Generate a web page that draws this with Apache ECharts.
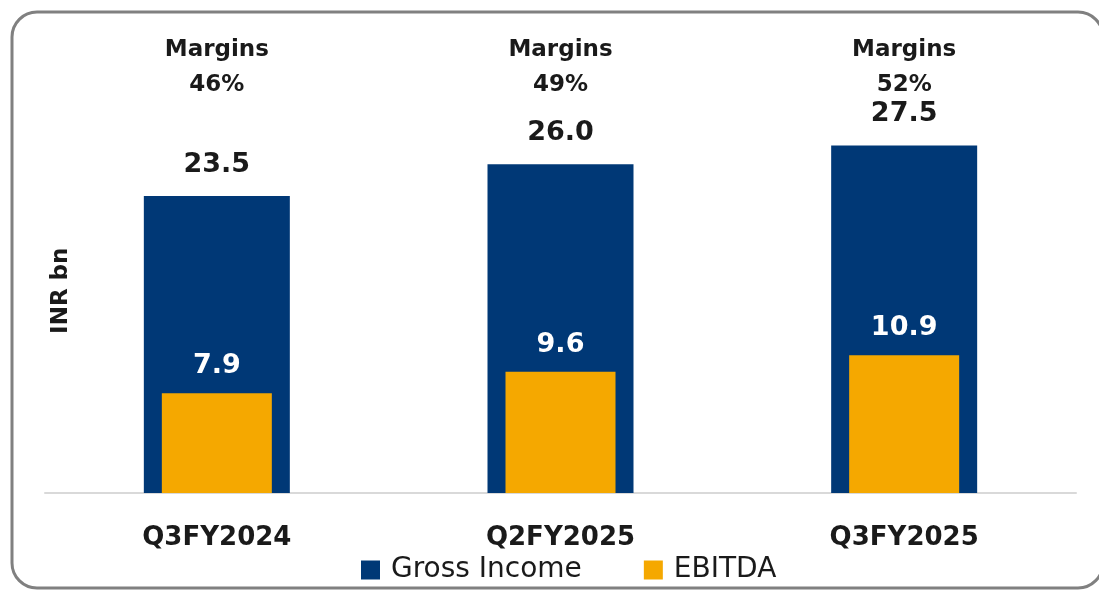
<!DOCTYPE html>
<html>
<head>
<meta charset="utf-8">
<script src="https://cdn.jsdelivr.net/npm/echarts@6/dist/echarts.min.js"></script>
<style>
  html, body { margin: 0; padding: 0; background: #ffffff; }
  #chart { width: 1099px; height: 590px; }
</style>
</head>
<body>
<div id="chart"></div>
<script>
const categories = ['Q3FY2024', 'Q2FY2025', 'Q3FY2025'];
const grossIncome = [23.5, 26.0, 27.5];
const ebitda = [7.9, 9.6, 10.9];
const margins = ['46%', '49%', '52%'];
const seriesNames = ['Gross Income', 'EBITDA'];
const axisName = 'INR bn';

const NAVY = '#003876';
const ORANGE = '#F5A800';
const FONT = 'DejaVu Sans';

const chart = echarts.init(document.getElementById('chart'), null, { renderer: 'canvas' });

chart.setOption({
  animation: false,
  backgroundColor: '#ffffff',
  textStyle: { fontFamily: FONT },
  graphic: [{
    type: 'rect',
    silent: true,
    z: -10,
    shape: { x: 12, y: 12, width: 1091, height: 576, r: 25 },
    style: { fill: 'none', stroke: '#808080', lineWidth: 3 }
  }],
  grid: { left: 45, right: 23, top: 88.5, bottom: 97, containLabel: false },
  legend: {
    left: 361,
    top: 556,
    padding: 0,
    icon: 'rect',
    itemWidth: 19,
    itemHeight: 19,
    itemGap: 62,
    data: seriesNames,
    textStyle: { fontFamily: FONT, fontSize: 28, color: '#1a1a1a', padding: [0, 0, 0, 6] }
  },
  xAxis: [
    {
      type: 'category',
      data: categories,
      position: 'bottom',
      axisLine: { show: true, lineStyle: { color: '#d9d9d9', width: 2 } },
      axisTick: { show: false },
      axisLabel: { fontFamily: FONT, fontWeight: 'bold', fontSize: 26, color: '#1a1a1a', margin: 32 }
    },
    {
      type: 'category',
      data: categories,
      position: 'bottom',
      show: false
    },
    {
      type: 'category',
      data: categories,
      position: 'top',
      axisLine: { show: false },
      axisTick: { show: false },
      axisLabel: {
        fontFamily: FONT, fontWeight: 'bold', fontSize: 23, color: '#1a1a1a',
        lineHeight: 35, margin: -14,
        formatter: function (v, i) { return 'Margins\n' + margins[i]; }
      }
    }
  ],
  yAxis: {
    type: 'value',
    min: 0,
    max: 32,
    name: axisName,
    nameLocation: 'middle',
    nameRotate: 90,
    nameGap: -28,
    nameTextStyle: { fontFamily: FONT, fontWeight: 'bold', fontSize: 23, color: '#1a1a1a' },
    axisLine: { show: false },
    axisTick: { show: false },
    axisLabel: { show: false },
    splitLine: { show: false }
  },
  series: [
    {
      name: seriesNames[0],
      type: 'bar',
      xAxisIndex: 0,
      data: grossIncome,
      barWidth: 146,
      itemStyle: { color: NAVY },
      label: {
        show: true,
        position: 'top',
        distance: 17,
        fontFamily: FONT,
        fontWeight: 'bold',
        fontSize: 27,
        lineHeight: 28,
        color: '#1a1a1a',
        formatter: function (p) { return p.value.toFixed(1); }
      }
    },
    {
      name: seriesNames[1],
      type: 'bar',
      xAxisIndex: 1,
      data: ebitda,
      barWidth: 110,
      itemStyle: { color: ORANGE },
      label: {
        show: true,
        position: 'top',
        distance: 13,
        fontFamily: FONT,
        fontWeight: 'bold',
        fontSize: 27,
        lineHeight: 28,
        color: '#ffffff',
        formatter: function (p) { return p.value.toFixed(1); }
      }
    }
  ]
});
</script>
</body>
</html>
